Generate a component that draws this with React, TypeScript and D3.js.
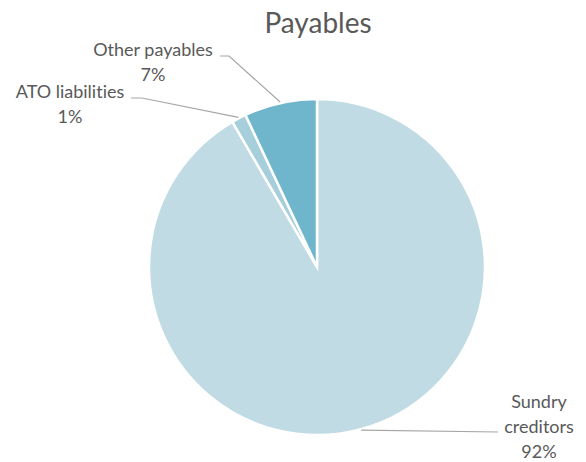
import React from "react";
import * as d3 from "d3";

const categories = ["Sundry creditors", "ATO liabilities", "Other payables"];
const values = [91.6, 1.4, 7.0];
const colors = ["#C1DBE4", "#A6CEDB", "#6FB6CC"];
const title = "Payables";

// label layout: text lines anchor (x, first-line y), leader start/elbow
const labelLayout = [
  { lines: ["Sundry", "creditors"], x: 539, y: 408, lineStart: [498, 432], elbow: null as null | number[] },
  { lines: ["ATO liabilities"], x: 70, y: 98, lineStart: [131, 98], elbow: [142, 98] },
  { lines: ["Other payables"], x: 153, y: 56, lineStart: [220, 56], elbow: [229, 56] },
];

const W = 586;
const H = 462;
const cx = 317;
const cy = 267;
const R = 168;

export default function App() {
  const total = d3.sum(values);
  const pie = d3
    .pie<number>()
    .sort(null)
    .value((d) => d)(values);
  const arc = d3.arc<d3.PieArcDatum<number>>().innerRadius(0).outerRadius(R);
  const edge = d3.arc<d3.PieArcDatum<number>>().innerRadius(R + 1).outerRadius(R + 1);
  const font = "Lato, 'Open Sans', sans-serif";

  return (
    <svg
      width={W}
      height={H}
      style={{ position: "absolute", left: 0, top: 0, background: "#fff", fontVariantLigatures: "none" }}
    >
      <text
        x={318}
        y={33}
        textAnchor="middle"
        fontFamily={font}
        fontSize={28}
        fill="#595959"
      >
        {title}
      </text>
      <g transform={`translate(${cx},${cy})`}>
        {pie.map((p, i) => (
          <path key={i} d={arc(p) || ""} fill={colors[i]} stroke="#fff" strokeWidth={2.5} strokeLinejoin="miter" />
        ))}
      </g>
      {pie.map((p, i) => {
        const L = labelLayout[i];
        const [ex, ey] = edge.centroid(p);
        const pts: number[][] = [L.lineStart];
        if (L.elbow) pts.push(L.elbow);
        pts.push([cx + ex, cy + ey]);
        const pct = Math.round((values[i] / total) * 100) + "%";
        const lines = [...L.lines, pct];
        return (
          <g key={"l" + i}>
            <polyline
              points={pts.map((q) => q.join(",")).join(" ")}
              fill="none"
              stroke="#A6A6A6"
              strokeWidth={1.2}
            />
            <text
              x={L.x}
              y={L.y}
              textAnchor="middle"
              fontFamily={font}
              fontSize={18}
              fill="#595959"
            >
              {lines.map((t, j) => (
                <tspan key={j} x={L.x} dy={j === 0 ? 0 : 25}>
                  {t}
                </tspan>
              ))}
            </text>
          </g>
        );
      })}
    </svg>
  );
}
